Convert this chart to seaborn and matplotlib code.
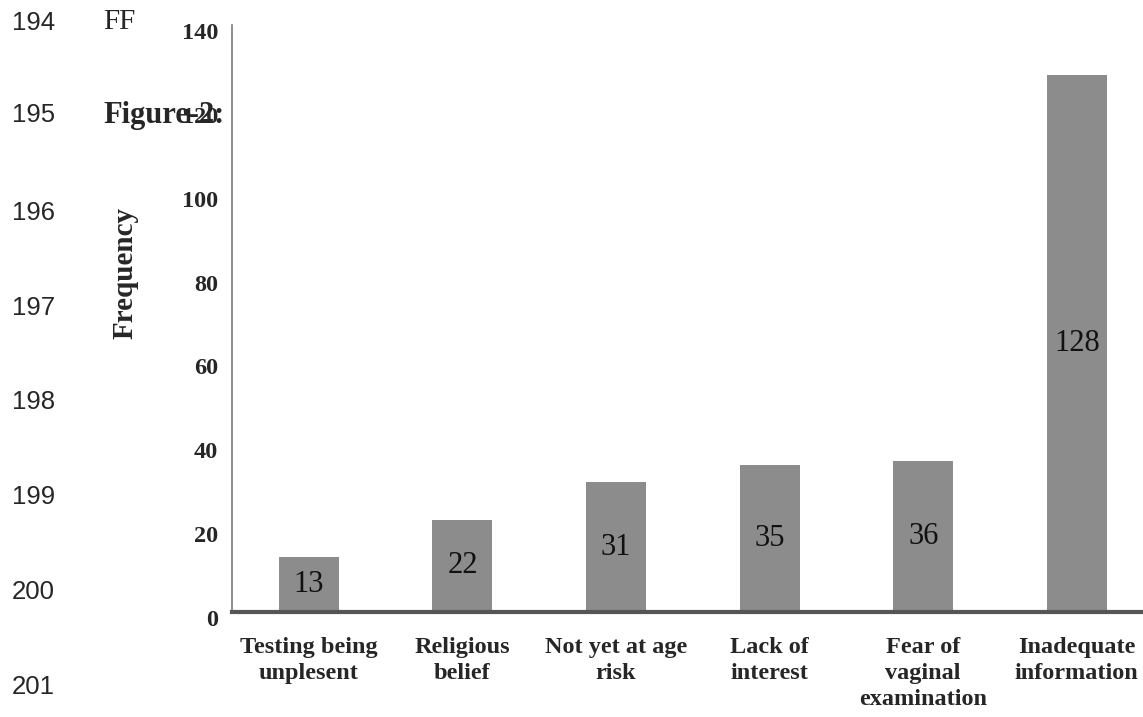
import matplotlib
matplotlib.use("Agg")
import matplotlib.pyplot as plt
from matplotlib.transforms import ScaledTranslation
import seaborn as sns
import pandas as pd

categories = ["Testing being\nunplesent", "Religious\nbelief", "Not yet at age\nrisk",
              "Lack of\ninterest", "Fear of\nvaginal\nexamination", "Inadequate\ninformation"]
frequency = [13, 22, 31, 35, 36, 128]
y_ticks = [0, 20, 40, 60, 80, 100, 120, 140]
line_numbers = ["194", "195", "196", "197", "198", "199", "200", "201"]

sns.set_theme(style="white")
plt.rcParams['font.family'] = ['Liberation Serif', 'DejaVu Serif']

W, H = 1143, 717
fig = plt.figure(figsize=(W / 100, H / 100), dpi=100)
fig.patch.set_facecolor("white")

left = 232 / W
bottom = (H - 612) / H
top = (H - 25) / H
ax = fig.add_axes([left, bottom, 921.6 / W, top - bottom])

df = pd.DataFrame({"cat": categories, "freq": frequency})
sns.barplot(data=df, x="cat", y="freq", color="#8c8c8c", saturation=1,
            width=0.39, ax=ax, edgecolor="none")

for c in ax.containers:
    ax.bar_label(c, label_type="center", fontsize=22, color="#111111",
                 family="Liberation Serif")

ax.set_xlim(-0.5, 5.5)
ax.set_ylim(0, 140)
ax.set_yticks(y_ticks)
ax.set_yticklabels([str(t) for t in y_ticks], fontsize=17.5, fontweight="bold")
ax.set_xticks(range(len(categories)))
ax.set_xticklabels(categories, fontsize=17.5, fontweight="bold", linespacing=1.32)
ax.tick_params(axis="x", length=0, pad=18)
ax.tick_params(axis="y", length=0, pad=10)
for lab in ax.get_yticklabels():
    lab.set_transform(lab.get_transform() + ScaledTranslation(0, -0.06, fig.dpi_scale_trans))
ax.set_xlabel("")
ax.set_ylabel("")

for s in ["top", "right"]:
    ax.spines[s].set_visible(False)
ax.spines["left"].set_color("#7a7a7a")
ax.spines["left"].set_linewidth(1.2)
ax.spines["bottom"].set_color("#555555")
ax.spines["bottom"].set_linewidth(3)
ax.grid(False)

fig.text(125 / W, 1 - 273 / H, "Frequency", rotation=90, fontsize=21,
         fontweight="bold", ha="center", va="center")

ys = [23, 115, 213, 308, 402, 497, 592, 687]
for t, y in zip(line_numbers, ys):
    fig.text(12 / W, 1 - y / H, t, fontsize=18.5, family="Liberation Sans",
             ha="left", va="center")

fig.text(103 / W, 1 - 22 / H, "FF", fontsize=21, ha="left", va="center")
fig.text(103 / W, 1 - 115 / H, "Figure-2:", fontsize=22, fontweight="bold",
         ha="left", va="center")

fig.savefig("out.png", dpi=100)
